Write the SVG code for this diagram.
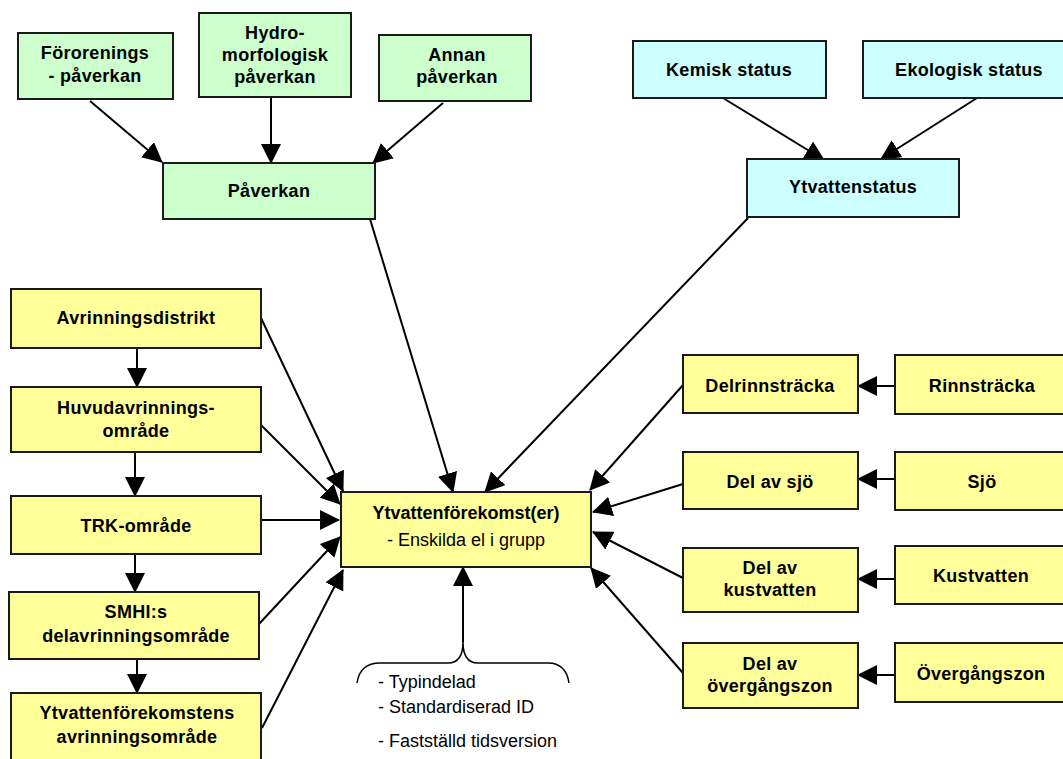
<svg xmlns="http://www.w3.org/2000/svg" width="1063" height="759" viewBox="0 0 1063 759">
<defs>
<style>
.box{stroke:#1a1a1a;stroke-width:2}
.g{fill:#CCFFCC}.c{fill:#CCFFFF}.y{fill:#FFFF99}
.t{font-family:"Liberation Sans",Arial,sans-serif;font-size:18px;font-weight:bold;fill:#000;text-anchor:middle;letter-spacing:0.3px}
.r{font-family:"Liberation Sans",Arial,sans-serif;font-size:18px;fill:#000}
.ln{stroke:#000;stroke-width:2;fill:none;marker-end:url(#ah)}
</style>
<marker id="ah" markerUnits="userSpaceOnUse" markerWidth="20" markerHeight="20" refX="19" refY="10" orient="auto"><path d="M0,0 L20,10 L0,20 z" fill="#000"/></marker>
</defs>
<rect width="1063" height="759" fill="#fff"/>
<g id="connectors">
<line class="ln" x1="90" y1="101" x2="162" y2="162"/>
<line class="ln" x1="271" y1="97" x2="271" y2="163"/>
<line class="ln" x1="443" y1="103" x2="373" y2="163"/>
<line class="ln" x1="723" y1="98" x2="824" y2="160"/>
<line class="ln" x1="977" y1="98" x2="881" y2="159"/>
<line class="ln" x1="370" y1="219" x2="453" y2="492"/>
<line class="ln" x1="748" y1="218" x2="485" y2="492"/>
<line class="ln" x1="137" y1="348" x2="137" y2="387"/>
<line class="ln" x1="135" y1="452" x2="135" y2="496"/>
<line class="ln" x1="135" y1="554" x2="135" y2="592"/>
<line class="ln" x1="137" y1="659" x2="137" y2="693"/>
<line class="ln" x1="261" y1="318" x2="343" y2="491"/>
<line class="ln" x1="258" y1="422" x2="340" y2="504"/>
<line class="ln" x1="261" y1="520" x2="339" y2="520"/>
<line class="ln" x1="259" y1="624" x2="340" y2="537"/>
<line class="ln" x1="262" y1="728" x2="343" y2="570"/>
<line class="ln" x1="895" y1="386" x2="858" y2="386"/>
<line class="ln" x1="895" y1="479" x2="858" y2="479"/>
<line class="ln" x1="895" y1="579" x2="858" y2="579"/>
<line class="ln" x1="895" y1="675" x2="858" y2="675"/>
<line class="ln" x1="683" y1="385" x2="590" y2="490"/>
<line class="ln" x1="683" y1="484" x2="593" y2="512"/>
<line class="ln" x1="683" y1="578" x2="593" y2="532"/>
<line class="ln" x1="683" y1="673" x2="591" y2="568"/>
<line class="ln" x1="463" y1="642" x2="463" y2="567"/>
<path d="M357,683 Q360,663 380,663 L448,663 Q463,663 463,642 Q463,663 478,663 L548,663 Q566,663 569,683" stroke="#000" stroke-width="1.5" fill="none"/>
</g>
<g id="n-fororenings"><rect class="box g" x="18" y="33" width="155" height="66"/><text class="t" x="95" y="59">Förorenings</text><text class="t" x="95" y="82">- påverkan</text></g>
<g id="n-hydro"><rect class="box g" x="199" y="13" width="152" height="84"/><text class="t" x="275" y="39">Hydro-</text><text class="t" x="275" y="61">morfologisk</text><text class="t" x="275" y="83">påverkan</text></g>
<g id="n-annan"><rect class="box g" x="379" y="35" width="152" height="66"/><text class="t" x="457" y="61">Annan</text><text class="t" x="457" y="83">påverkan</text></g>
<g id="n-paverkan"><rect class="box g" x="163" y="163" width="212" height="56"/><text class="t" x="269" y="197">Påverkan</text></g>
<g id="n-kemisk"><rect class="box c" x="633" y="41" width="193" height="57"/><text class="t" x="729" y="76">Kemisk status</text></g>
<g id="n-ekologisk"><rect class="box c" x="863" y="41" width="212" height="57"/><text class="t" x="969" y="76">Ekologisk status</text></g>
<g id="n-ytvattenstatus"><rect class="box c" x="747" y="159" width="212" height="58"/><text class="t" x="853" y="193">Ytvattenstatus</text></g>
<g id="n-avrinningsdistrikt"><rect class="box y" x="11" y="289" width="250" height="59"/><text class="t" x="136" y="324">Avrinningsdistrikt</text></g>
<g id="n-huvud"><rect class="box y" x="11" y="387" width="250" height="65"/><text class="t" x="136" y="414">Huvudavrinnings-</text><text class="t" x="136" y="437">område</text></g>
<g id="n-trk"><rect class="box y" x="11" y="496" width="250" height="58"/><text class="t" x="136" y="532">TRK-område</text></g>
<g id="n-smhi"><rect class="box y" x="9" y="592" width="250" height="67"/><text class="t" x="136" y="618">SMHI:s</text><text class="t" x="136" y="642">delavrinningsområde</text></g>
<g id="n-ytvavr"><rect class="box y" x="11" y="693" width="250" height="70"/><text class="t" x="137" y="719">Ytvattenförekomstens</text><text class="t" x="137" y="743">avrinningsområde</text></g>
<g id="n-center"><rect class="box y" x="341" y="492" width="250" height="75"/><text class="t" x="466" y="519" style="letter-spacing:0">Ytvattenförekomst(er)</text><text class="r" x="466" y="546" text-anchor="middle">- Enskilda el i grupp</text></g>
<g id="n-delrinn"><rect class="box y" x="683" y="355" width="175" height="58"/><text class="t" x="770" y="392">Delrinnsträcka</text></g>
<g id="n-rinn"><rect class="box y" x="895" y="355" width="175" height="59"/><text class="t" x="982" y="392">Rinnsträcka</text></g>
<g id="n-delsjo"><rect class="box y" x="683" y="452" width="175" height="57"/><text class="t" x="770" y="488">Del av sjö</text></g>
<g id="n-sjo"><rect class="box y" x="895" y="452" width="175" height="58"/><text class="t" x="982" y="488">Sjö</text></g>
<g id="n-delkust"><rect class="box y" x="683" y="548" width="175" height="64"/><text class="t" x="770" y="574">Del av</text><text class="t" x="770" y="596">kustvatten</text></g>
<g id="n-kust"><rect class="box y" x="895" y="546" width="175" height="58"/><text class="t" x="981" y="582">Kustvatten</text></g>
<g id="n-delovergang"><rect class="box y" x="683" y="643" width="175" height="65"/><text class="t" x="770" y="670">Del av</text><text class="t" x="770" y="692">övergångszon</text></g>
<g id="n-overgang"><rect class="box y" x="895" y="643" width="175" height="59"/><text class="t" x="981" y="680">Övergångszon</text></g>
<g id="brace-text">
<text class="r" x="378" y="688">- Typindelad</text>
<text class="r" x="378" y="713">- Standardiserad ID</text>
<text class="r" x="378" y="747">- Fastställd tidsversion</text>
</g>
</svg>
